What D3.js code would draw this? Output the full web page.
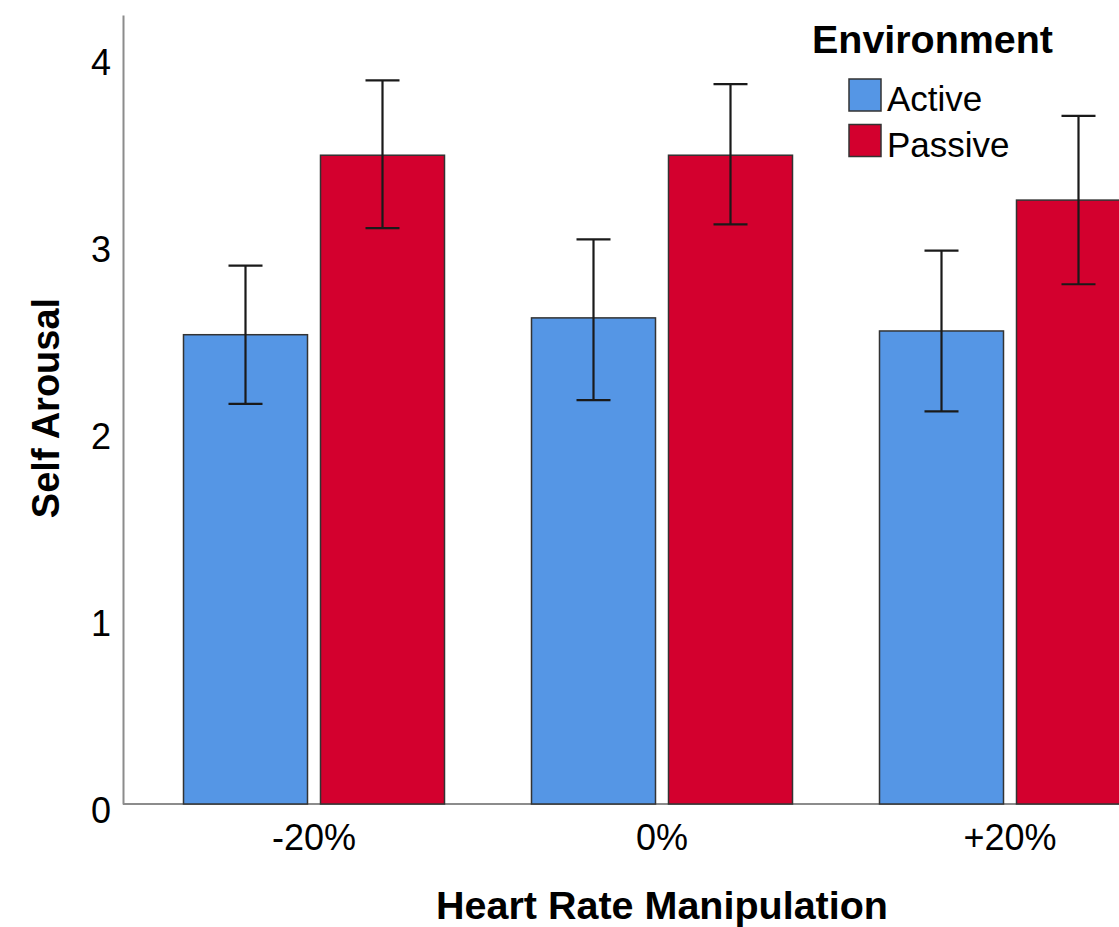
<!DOCTYPE html>
<html>
<head>
<meta charset="utf-8">
<script src="https://cdn.jsdelivr.net/npm/d3@7/dist/d3.min.js"></script>
<style>
  html, body { margin: 0; padding: 0; background: #fff; overflow: hidden; }
  svg { display: block; font-family: Arial, "Liberation Sans", sans-serif; }
</style>
</head>
<body>
<svg id="chart" width="1119" height="927"></svg>
<script>
// Heart rate manipulation conditions on the x axis
const categories = ["-20%", "0%", "+20%"];
// Environment groups
const series = ["Active", "Passive"];
// Mean self-reported arousal per condition
const activeMeans  = [2.51, 2.60, 2.53];
const passiveMeans = [3.47, 3.47, 3.23];
// Error bar bounds (lower / upper)
const activeLower  = [2.14, 2.16, 2.10];
const activeUpper  = [2.88, 3.02, 2.96];
const passiveLower = [3.08, 3.10, 2.78];
const passiveUpper = [3.87, 3.85, 3.68];
// Y axis tick values
const yTicks = [0, 1, 2, 3, 4];

const colors = { Active: "#5596e5", Passive: "#d3002e" };

const svg = d3.select("#chart");

const rows = categories.map((c, i) => ({
  category: c,
  values: [
    { series: "Active",  mean: activeMeans[i],  lo: activeLower[i],  hi: activeUpper[i] },
    { series: "Passive", mean: passiveMeans[i], lo: passiveLower[i], hi: passiveUpper[i] }
  ]
}));

const y = d3.scaleLinear().domain([0, 4.22]).range([804, 15]);
const x0 = d3.scaleBand().domain(categories).range([140, 1184])
  .paddingInner(0.25).paddingOuter(0.125);
const x1 = d3.scaleBand().domain(series).range([0, x0.bandwidth()])
  .paddingInner(13 / 137);

// Axes
const yAxis = svg.append("g")
  .attr("transform", "translate(123,0)")
  .call(d3.axisLeft(y).tickValues(yTicks).tickFormat(d3.format("d")).tickSize(0).tickPadding(12));
yAxis.select(".domain").attr("stroke", "#8c8c8c").attr("stroke-width", 2);
yAxis.selectAll("text")
  .attr("font-size", 36).attr("fill", "#000")
  .attr("dy", "0.5em").attr("font-family", "Arial, 'Liberation Sans', sans-serif");

const xAxis = svg.append("g")
  .attr("transform", "translate(0,804)")
  .call(d3.axisBottom(x0).tickSize(0).tickPadding(20));
xAxis.select(".domain").attr("d", "M123,0H1119").attr("stroke", "#8c8c8c").attr("stroke-width", 2);
xAxis.selectAll("text")
  .attr("font-size", 36).attr("fill", "#000")
  .attr("dy", "0.71em").attr("font-family", "Arial, 'Liberation Sans', sans-serif");

// Bars
const groups = svg.append("g").selectAll("g")
  .data(rows).join("g")
  .attr("transform", d => `translate(${x0(d.category)},0)`);

groups.selectAll("rect")
  .data(d => d.values).join("rect")
  .attr("x", d => x1(d.series))
  .attr("y", d => y(d.mean))
  .attr("width", x1.bandwidth())
  .attr("height", d => y(0) - y(d.mean))
  .attr("fill", d => colors[d.series])
  .attr("stroke", "#333")
  .attr("stroke-width", 1.5);

// Error bars
const cap = 17;
const eb = groups.selectAll("g.err")
  .data(d => d.values).join("g")
  .attr("class", "err")
  .attr("stroke", "#1a1a1a")
  .attr("stroke-width", 2.2);
eb.append("line")
  .attr("x1", d => x1(d.series) + x1.bandwidth() / 2)
  .attr("x2", d => x1(d.series) + x1.bandwidth() / 2)
  .attr("y1", d => y(d.lo)).attr("y2", d => y(d.hi));
eb.append("line")
  .attr("x1", d => x1(d.series) + x1.bandwidth() / 2 - cap)
  .attr("x2", d => x1(d.series) + x1.bandwidth() / 2 + cap)
  .attr("y1", d => y(d.hi)).attr("y2", d => y(d.hi));
eb.append("line")
  .attr("x1", d => x1(d.series) + x1.bandwidth() / 2 - cap)
  .attr("x2", d => x1(d.series) + x1.bandwidth() / 2 + cap)
  .attr("y1", d => y(d.lo)).attr("y2", d => y(d.lo));

// Axis titles
svg.append("text")
  .attr("x", 436).attr("y", 919)
  .attr("font-size", 38).attr("font-weight", "bold")
  .attr("textLength", 452).attr("lengthAdjust", "spacingAndGlyphs")
  .text("Heart Rate Manipulation");

svg.append("text")
  .attr("transform", "translate(59,408) rotate(-90)")
  .attr("text-anchor", "middle")
  .attr("font-size", 38).attr("font-weight", "bold")
  .text("Self Arousal");

// Legend
const legend = svg.append("g");
legend.append("text")
  .attr("x", 812).attr("y", 53)
  .attr("font-size", 38).attr("font-weight", "bold")
  .attr("textLength", 241).attr("lengthAdjust", "spacingAndGlyphs")
  .text("Environment");
const items = legend.selectAll("g.item")
  .data(series).join("g")
  .attr("class", "item")
  .attr("transform", (d, i) => `translate(849,${79 + i * 45.5})`);
items.append("rect")
  .attr("width", 32).attr("height", 32)
  .attr("fill", d => colors[d])
  .attr("stroke", "#333").attr("stroke-width", 1.5);
items.append("text")
  .attr("x", 38).attr("y", 32)
  .attr("font-size", 35)
  .text(d => d);
</script>
</body>
</html>
